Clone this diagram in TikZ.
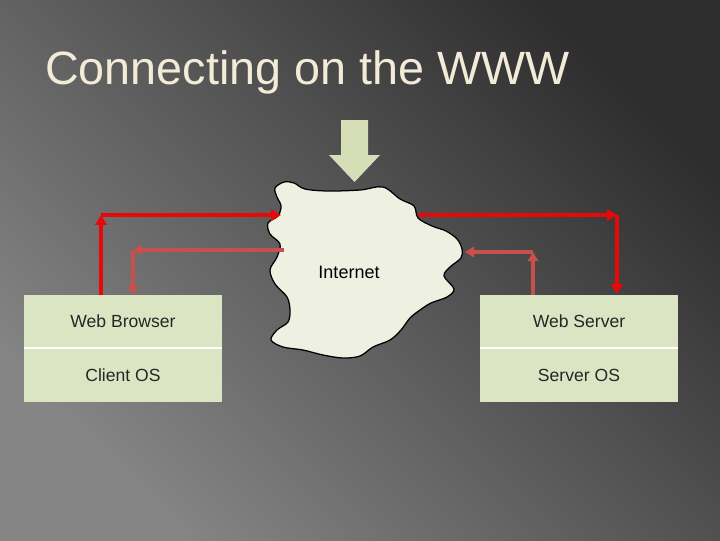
\documentclass[tikz,border=0pt]{standalone}
\usepackage{fontspec}
\setmainfont{Liberation Sans}
\usetikzlibrary{arrows.meta}

\definecolor{slidetitle}{HTML}{F2EBD8}
\definecolor{boxfill}{HTML}{DCE5C3}
\definecolor{cloudfill}{HTML}{EEF0E2}
\definecolor{blockarrow}{HTML}{D5DEB6}
\definecolor{linkred}{HTML}{E8080A}
\definecolor{replyred}{HTML}{C8504C}

\begin{document}
\begin{tikzpicture}[x=0.025cm, y=-0.025cm,
                    layer/.style={fill=boxfill, minimum width=4.95cm, minimum height=1.33cm, inner sep=0pt, font=\fontsize{12.5}{15}\selectfont, text=black!85},
                    request/.style={draw=linkred, line width=2.9pt, -{Triangle[length=7pt,width=8pt]}},
                    answer/.style={draw=replyred, line width=2.2pt, -{Triangle[length=6.5pt,width=7.5pt]}},
                    cloud/.style={fill=cloudfill, draw=black, line width=0.9pt}
                ]

                % Hintergrund
                \shade[top color=black!82, bottom color=black!48, shading angle=-45] (0,0) rectangle (720,540);
                \useasboundingbox (0,0) rectangle (720,540);

                \node[anchor=base west, inner sep=0pt, text=slidetitle, font=\fontsize{33.2}{38}\selectfont] (title) at (45,84) {Connecting on the WWW};

                % Pfeil nach unten
                \fill[blockarrow] (341,120) -- (368,120) -- (368,155) -- (380,155) -- (354.5,182) -- (329,155) -- (341,155) -- cycle;

                % Internet
                \draw[cloud] plot[smooth cycle, tension=0.55] coordinates {
                    (275,188) (284,182) (294,183) (305,189) (328,191) (360,190) (383,187)
                    (400,199) (414,206) (418,218) (432,226) (446,231) (457,239) (462,249)
                    (461,258) (450,267) (444,276) (454,289) (447,297) (431,303) (420,310)
                    (410,318) (401,330) (390,340) (373,347) (360,356) (343,358) (323,355)
                    (303,350) (283,347) (271,340) (277,330) (288,322) (290,310) (287,297)
                    (275,284) (270,270) (277,257) (280,244) (270,234) (268,223) (278,216)
                    (281,206) (277,197)};
                \node (inet) at (349,272) {\fontsize{12.8}{15}\selectfont Internet};
                \coordinate (inL1) at (281,215);
                \coordinate (inL2) at (284,250);
                \coordinate (inR1) at (418,215);
                \coordinate (inR2) at (465,252);

                % Client
                \node[layer] (browser) at (123,321.5) {Web Browser};
                \node[layer] (clientos) at (123,375) {Client OS};
                \draw[white, line width=1pt] (clientos.north west) -- (clientos.north east);

                % Server
                \node[layer] (webserver) at (579,321.5) {Web Server};
                \node[layer] (serveros) at (579,375) {Server OS};
                \draw[white, line width=1pt] (serveros.north west) -- (serveros.north east);

                % Verbindungen
                \coordinate (c1) at (101,295);
                \coordinate (c2) at (101,215);
                \coordinate (c3) at (133,250);
                \coordinate (c4) at (133,295);
                \coordinate (s1) at (617,215);
                \coordinate (s2) at (617,294);
                \coordinate (s3) at (533,295);
                \coordinate (s4) at (533,252);

                \draw[request] (c1) -- (c2);
                \draw[request] (c2) -- (inL1);
                \draw[request] (inR1) -- (s1);
                \draw[request] (s1) -- (s2);
                \draw[answer] (inL2) -- (c3);
                \draw[answer] (c3) -- (c4);
                \draw[answer] (s3) -- (s4);
                \draw[answer] (s4) -- (inR2);

                \end{tikzpicture}
\end{document}
